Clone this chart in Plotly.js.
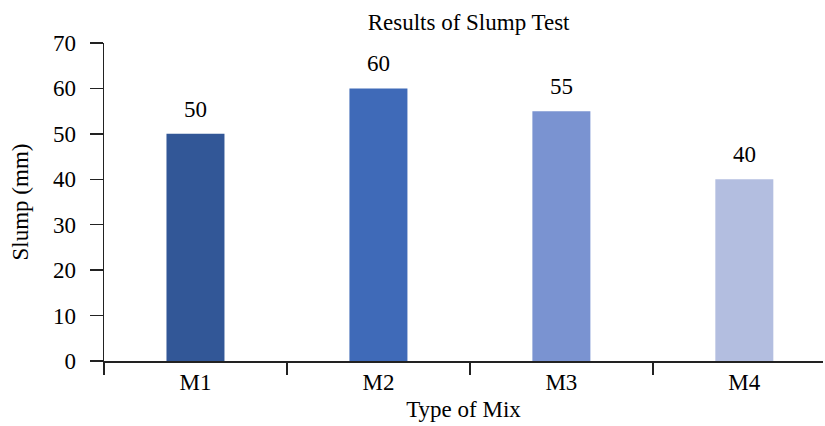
<!DOCTYPE html>
<html>
<head>
<meta charset="utf-8">
<script src="https://cdn.plot.ly/plotly-3.0.1.min.js"></script>
<style>html,body{margin:0;padding:0;background:#fff;}#chart{width:825px;height:426px;}</style>
</head>
<body>
<div id="chart"></div>
<script>
const categories = ["M1", "M2", "M3", "M4"];
const slumpValues = [50, 60, 55, 40];
const barColors = ["#325797", "#3F6AB8", "#7A93D1", "#B3BEE0"];
const yTickValues = [0, 10, 20, 30, 40, 50, 60, 70];

const FONT = "Liberation Serif";

const trace = {
  type: "bar",
  x: categories,
  y: slumpValues,
  width: 0.317,
  marker: { color: barColors },
  hoverinfo: "none"
};

const annotations = categories.map((c, i) => ({
  x: c, y: slumpValues[i], xref: "x", yref: "y",
  text: String(slumpValues[i]), showarrow: false,
  yanchor: "bottom", yshift: 10,
  font: { family: FONT, size: 23, color: "#000" }
}));

const layout = {
  width: 825, height: 426,
  margin: { l: 104, r: 2, t: 43, b: 65 },
  paper_bgcolor: "#fff", plot_bgcolor: "#fff",
  showlegend: false,
  title: { text: "Results of Slump Test", x: 0.568, xanchor: "center", y: 0.948, yanchor: "middle",
           font: { family: FONT, size: 23, color: "#000" } },
  xaxis: {
    type: "category", range: [-0.5, 3.43],
    showline: true, linecolor: "#222", linewidth: 1.5,
    ticks: "outside", tickson: "boundaries", ticklen: 12, tickwidth: 1.5, tickcolor: "#222",
    showgrid: false, zeroline: false,
    tickfont: { family: FONT, size: 23, color: "#000" },
    title: { text: "Type of Mix", font: { family: FONT, size: 23, color: "#000" }, standoff: 7 }
  },
  yaxis: {
    range: [0, 70], tickvals: yTickValues,
    showline: true, linecolor: "#222", linewidth: 1.5,
    ticks: "outside", ticklen: 13, tickwidth: 1.5, tickcolor: "#222",
    ticklabelstandoff: 9,
    showgrid: false, zeroline: false,
    tickfont: { family: FONT, size: 23, color: "#000" },
    title: { text: "Slump (mm)", font: { family: FONT, size: 23, color: "#000" }, standoff: 18 }
  },
  annotations: annotations
};

Plotly.newPlot("chart", [trace], layout, { displayModeBar: false, staticPlot: true });
</script>
</body>
</html>
